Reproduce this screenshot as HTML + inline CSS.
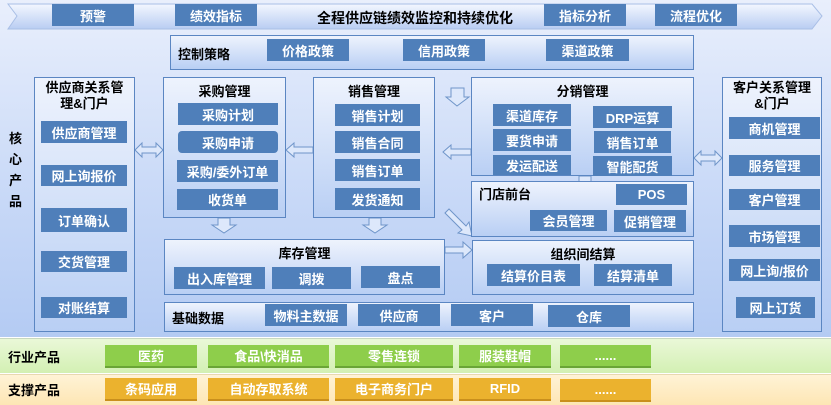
<!DOCTYPE html>
<html><head><meta charset="utf-8"><style>
*{margin:0;padding:0;box-sizing:border-box}
body{width:831px;height:405px;position:relative;overflow:hidden;font-family:"Liberation Sans","Noto Sans CJK SC",sans-serif;background:#fff}
.a{position:absolute}
.bg{left:0;top:0;width:831px;height:337px;background:linear-gradient(180deg,#e9effc 0%,#c7d8f7 60%,#b4cbf3 100%)}
.box{position:absolute;border:1.5px solid #5b86c2;background:linear-gradient(180deg,#eef3fd,#b9cff4)}
.b{position:absolute;background:#4f7fba;color:#fff;font-size:13px;font-weight:bold;display:flex;align-items:center;justify-content:center;white-space:nowrap}
.t{position:absolute;font-size:13px;font-weight:bold;color:#000;white-space:nowrap}
.g{background:#8ece4b;border-bottom:2px solid #6aa536}
.o{background:#ebb22e;border-bottom:2px solid #c98f1c}
</style></head><body>
<div class="a bg"></div>
<svg class="a" style="left:0;top:0" width="831" height="337">
<defs><linearGradient id="ban" x1="0" y1="0" x2="0" y2="1"><stop offset="0" stop-color="#f3f7ff"/><stop offset="1" stop-color="#b9cdf2"/></linearGradient></defs>
<polygon points="8,4 812,4 822,16 812,29 8,29 17,16" fill="url(#ban)" stroke="#a9bfe6"/>
<g fill="#dde8fb" stroke="#6f95c9" stroke-width="1">
<polygon points="135,150 142,143 142,147 156,147 156,143 163,150 156,157 156,153 142,153 142,157"/>
<polygon points="286,150 294,143 294,147 313,147 313,153 294,153 294,157"/>
<polygon points="443,152 451,145 451,149 471,149 471,155 451,155 451,159"/>
<polygon points="694,158 701,151 701,155 715,155 715,151 722,158 715,165 715,161 701,161 701,165"/>
<polygon points="451,88 464,88 464,97 469,97 457,106 446,97 451,97"/>
<polygon points="218,218 230,218 230,225 236,225 224,233 212,225 218,225"/>
<polygon points="369,218 381,218 381,225 387,225 375,233 363,225 369,225"/>
<polygon points="579,176 591,176 591,182 597,182 585,190 573,182 579,182"/>
<polygon points="445,213 449,209 466,226 469,222 472,236 458,233 462,230"/>
<polygon points="445,247 463,247 463,242 472,250 463,258 463,253 445,253"/>
</g>
</svg>
<div class="b" style="left:52px;top:4px;width:82px;height:22px">预警</div>
<div class="b" style="left:175px;top:4px;width:82px;height:22px">绩效指标</div>
<div class="t" style="left:317px;top:8px;font-size:14px">全程供应链绩效监控和持续优化</div>
<div class="b" style="left:544px;top:4px;width:82px;height:22px">指标分析</div>
<div class="b" style="left:655px;top:4px;width:82px;height:22px">流程优化</div>

<div class="box" style="left:170px;top:35px;width:524px;height:35px"></div>
<div class="t" style="left:178px;top:44px">控制策略</div>
<div class="b" style="left:267px;top:39px;width:82px;height:22px">价格政策</div>
<div class="b" style="left:403px;top:39px;width:82px;height:22px">信用政策</div>
<div class="b" style="left:546px;top:39px;width:83px;height:22px">渠道政策</div>

<div class="t" style="left:9px;top:128px;width:14px;line-height:21px;white-space:normal">核心产品</div>

<div class="box" style="left:34px;top:77px;width:101px;height:255px"></div>
<div class="t" style="left:34px;top:80px;width:101px;text-align:center;line-height:16px;white-space:normal">供应商关系管<br>理&amp;门户</div>
<div class="b" style="left:41px;top:121px;width:86px;height:22px">供应商管理</div>
<div class="b" style="left:41px;top:165px;width:86px;height:21px">网上询报价</div>
<div class="b" style="left:41px;top:208px;width:86px;height:24px">订单确认</div>
<div class="b" style="left:41px;top:251px;width:86px;height:21px">交货管理</div>
<div class="b" style="left:41px;top:297px;width:86px;height:21px">对账结算</div>

<div class="box" style="left:163px;top:77px;width:123px;height:141px"></div>
<div class="t" style="left:163px;top:81px;width:123px;text-align:center">采购管理</div>
<div class="b" style="left:178px;top:103px;width:100px;height:22px">采购计划</div>
<div class="b" style="left:178px;top:131px;width:100px;height:22px;border-radius:4px">采购申请</div>
<div class="b" style="left:177px;top:160px;width:101px;height:22px">采购/委外订单</div>
<div class="b" style="left:177px;top:189px;width:101px;height:21px">收货单</div>

<div class="box" style="left:313px;top:77px;width:122px;height:141px"></div>
<div class="t" style="left:313px;top:81px;width:122px;text-align:center">销售管理</div>
<div class="b" style="left:335px;top:104px;width:85px;height:22px">销售计划</div>
<div class="b" style="left:335px;top:131px;width:85px;height:22px">销售合同</div>
<div class="b" style="left:335px;top:159px;width:85px;height:22px">销售订单</div>
<div class="b" style="left:335px;top:188px;width:85px;height:22px">发货通知</div>

<div class="box" style="left:471px;top:77px;width:223px;height:99px"></div>
<div class="t" style="left:471px;top:81px;width:223px;text-align:center">分销管理</div>
<div class="b" style="left:493px;top:104px;width:78px;height:22px">渠道库存</div>
<div class="b" style="left:493px;top:129px;width:78px;height:22px">要货申请</div>
<div class="b" style="left:493px;top:155px;width:78px;height:20px">发运配送</div>
<div class="b" style="left:593px;top:106px;width:79px;height:22px">DRP运算</div>
<div class="b" style="left:594px;top:131px;width:77px;height:22px">销售订单</div>
<div class="b" style="left:593px;top:156px;width:79px;height:20px">智能配货</div>

<div class="box" style="left:471px;top:181px;width:223px;height:56px"></div>
<div class="t" style="left:479px;top:184px">门店前台</div>
<div class="b" style="left:616px;top:184px;width:71px;height:21px">POS</div>
<div class="b" style="left:530px;top:210px;width:77px;height:21px">会员管理</div>
<div class="b" style="left:614px;top:210px;width:72px;height:22px">促销管理</div>

<div class="box" style="left:472px;top:240px;width:222px;height:55px"></div>
<div class="t" style="left:472px;top:244px;width:222px;text-align:center">组织间结算</div>
<div class="b" style="left:487px;top:264px;width:93px;height:22px">结算价目表</div>
<div class="b" style="left:594px;top:264px;width:78px;height:22px">结算清单</div>

<div class="box" style="left:164px;top:239px;width:281px;height:56px"></div>
<div class="t" style="left:164px;top:243px;width:281px;text-align:center">库存管理</div>
<div class="b" style="left:174px;top:267px;width:91px;height:22px">出入库管理</div>
<div class="b" style="left:272px;top:267px;width:79px;height:22px">调拨</div>
<div class="b" style="left:361px;top:266px;width:79px;height:22px">盘点</div>

<div class="box" style="left:164px;top:302px;width:530px;height:30px"></div>
<div class="t" style="left:172px;top:308px">基础数据</div>
<div class="b" style="left:265px;top:304px;width:82px;height:22px">物料主数据</div>
<div class="b" style="left:358px;top:304px;width:82px;height:22px">供应商</div>
<div class="b" style="left:451px;top:304px;width:82px;height:22px">客户</div>
<div class="b" style="left:548px;top:305px;width:82px;height:22px">仓库</div>

<div class="box" style="left:722px;top:77px;width:100px;height:255px"></div>
<div class="t" style="left:722px;top:80px;width:100px;text-align:center;line-height:16px;white-space:normal">客户关系管理<br>&amp;门户</div>
<div class="b" style="left:729px;top:117px;width:91px;height:22px">商机管理</div>
<div class="b" style="left:729px;top:155px;width:91px;height:21px">服务管理</div>
<div class="b" style="left:729px;top:189px;width:91px;height:21px">客户管理</div>
<div class="b" style="left:729px;top:225px;width:91px;height:22px">市场管理</div>
<div class="b" style="left:729px;top:259px;width:91px;height:22px">网上询/报价</div>
<div class="b" style="left:736px;top:297px;width:79px;height:21px">网上订货</div>

<div class="a" style="left:0;top:338px;width:831px;height:35px;background:linear-gradient(180deg,#eaf8d8,#d3f0b3);border-top:1px solid #c8d8c0"></div>
<div class="t" style="left:8px;top:347px">行业产品</div>
<div class="b g" style="left:105px;top:345px;width:92px;height:23px">医药</div>
<div class="b g" style="left:208px;top:345px;width:121px;height:23px">食品\快消品</div>
<div class="b g" style="left:335px;top:345px;width:118px;height:23px">零售连锁</div>
<div class="b g" style="left:459px;top:345px;width:92px;height:23px">服装鞋帽</div>
<div class="b g" style="left:560px;top:345px;width:91px;height:23px">......</div>

<div class="a" style="left:0;top:374px;width:831px;height:31px;background:linear-gradient(180deg,#fff3d6,#fde6b4);border-top:1px solid #e8d8b0"></div>
<div class="t" style="left:8px;top:380px">支撑产品</div>
<div class="b o" style="left:105px;top:378px;width:92px;height:23px">条码应用</div>
<div class="b o" style="left:208px;top:378px;width:121px;height:23px">自动存取系统</div>
<div class="b o" style="left:335px;top:378px;width:118px;height:23px">电子商务门户</div>
<div class="b o" style="left:459px;top:378px;width:92px;height:23px">RFID</div>
<div class="b o" style="left:560px;top:379px;width:91px;height:23px">......</div>
</body></html>
